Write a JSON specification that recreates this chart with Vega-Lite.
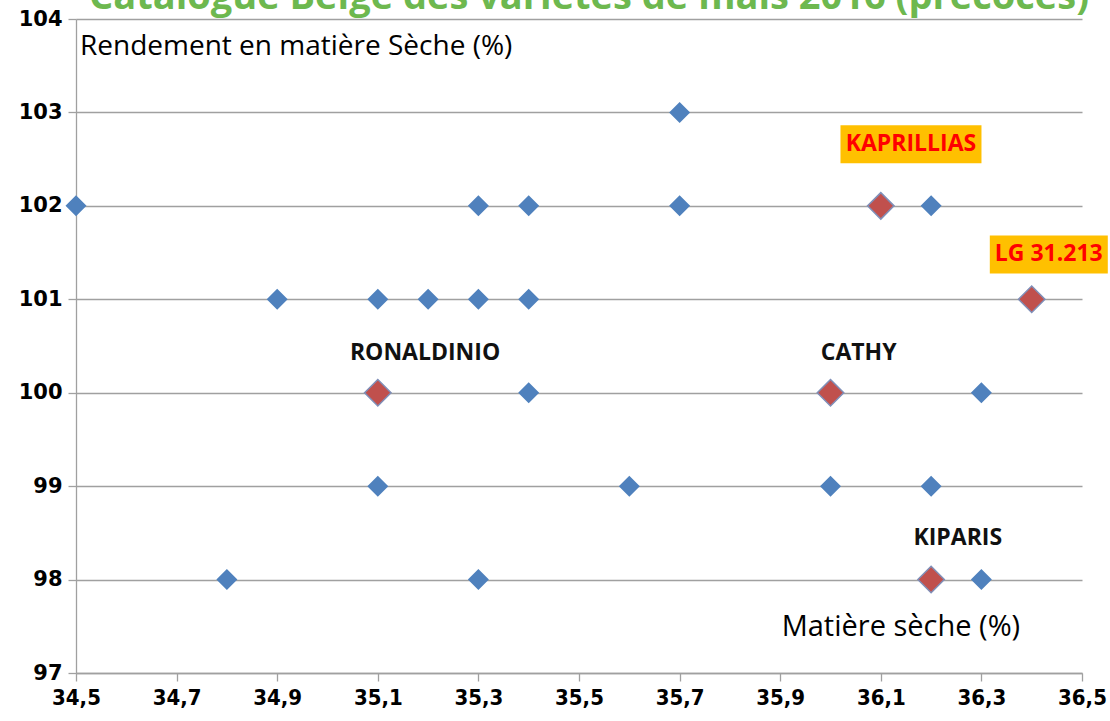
{
  "$schema": "https://vega.github.io/schema/vega-lite/v6.json",
  "autosize": {"type": "none"},
  "width": 1006,
  "height": 654,
  "padding": {"left": 76, "top": 19, "right": 28, "bottom": 48},
  "background": "white",
  "config": {"view": {"stroke": null}},
  "datasets": {
    "pts": [
      {"ms": 34.5, "rend": 102, "variete": "", "mise": "non"},
      {"ms": 35.7, "rend": 103, "variete": "", "mise": "non"},
      {"ms": 35.3, "rend": 102, "variete": "", "mise": "non"},
      {"ms": 35.4, "rend": 102, "variete": "", "mise": "non"},
      {"ms": 35.7, "rend": 102, "variete": "", "mise": "non"},
      {"ms": 36.1, "rend": 102, "variete": "KAPRILLIAS", "mise": "oui"},
      {"ms": 36.2, "rend": 102, "variete": "", "mise": "non"},
      {"ms": 34.9, "rend": 101, "variete": "", "mise": "non"},
      {"ms": 35.1, "rend": 101, "variete": "", "mise": "non"},
      {"ms": 35.2, "rend": 101, "variete": "", "mise": "non"},
      {"ms": 35.3, "rend": 101, "variete": "", "mise": "non"},
      {"ms": 35.4, "rend": 101, "variete": "", "mise": "non"},
      {"ms": 36.4, "rend": 101, "variete": "LG 31.213", "mise": "oui"},
      {"ms": 35.1, "rend": 100, "variete": "RONALDINIO", "mise": "oui"},
      {"ms": 35.4, "rend": 100, "variete": "", "mise": "non"},
      {"ms": 36.0, "rend": 100, "variete": "CATHY", "mise": "oui"},
      {"ms": 36.3, "rend": 100, "variete": "", "mise": "non"},
      {"ms": 35.1, "rend": 99, "variete": "", "mise": "non"},
      {"ms": 35.6, "rend": 99, "variete": "", "mise": "non"},
      {"ms": 36.0, "rend": 99, "variete": "", "mise": "non"},
      {"ms": 36.2, "rend": 99, "variete": "", "mise": "non"},
      {"ms": 34.8, "rend": 98, "variete": "", "mise": "non"},
      {"ms": 35.3, "rend": 98, "variete": "", "mise": "non"},
      {"ms": 36.2, "rend": 98, "variete": "KIPARIS", "mise": "oui"},
      {"ms": 36.3, "rend": 98, "variete": "", "mise": "non"}
    ],
    "etiquettes": [
      {"nom": "KAPRILLIAS", "lx": 36.16, "ly": 102.66, "type": "fond"},
      {"nom": "LG 31.213", "lx": 36.434, "ly": 101.48, "type": "fond"},
      {"nom": "RONALDINIO", "lx": 35.194, "ly": 100.43, "type": "simple"},
      {"nom": "CATHY", "lx": 36.056, "ly": 100.43, "type": "simple"},
      {"nom": "KIPARIS", "lx": 36.253, "ly": 98.44, "type": "simple"}
    ],
    "notes": [
      {"texte": "Rendement en matière Sèche (%)", "nx": 34.508, "ny": 103.7, "role": "y"},
      {"texte": "Matière sèche  (%)", "nx": 36.14, "ny": 97.49, "role": "x"}
    ],
    "titre": [
      {"texte": "Catalogue Belge des variétés de maïs 2016 (précoces)", "nx": 35.52, "ny": 104.11}
    ]
  },
  "layer": [
    {
      "data": {"name": "pts"},
      "mark": {"type": "point", "opacity": 0},
      "encoding": {
        "x": {
          "field": "ms", "type": "quantitative",
          "scale": {"domain": [34.5, 36.5], "nice": false, "zero": false},
          "axis": {
            "title": null,
            "values": [34.5, 34.7, 34.9, 35.1, 35.3, 35.5, 35.7, 35.9, 36.1, 36.3, 36.5],
            "labelExpr": "replace(format(datum.value, '.1f'), '.', ',')",
            "grid": false,
            "domainColor": "#a0a0a0",
            "domainWidth": 1.3,
            "tickColor": "#a0a0a0",
            "tickSize": 8,
            "tickWidth": 1.3,
            "labelPadding": 6,
            "labelFont": "DejaVu Sans Condensed, DejaVu Sans",
            "labelFontSize": 22,
            "labelFontWeight": "bold",
            "labelColor": "#000000",
            "labelOverlap": false,
            "labelFlush": false
          }
        },
        "y": {
          "field": "rend", "type": "quantitative",
          "scale": {"domain": [97, 104], "nice": false, "zero": false},
          "axis": {
            "title": null,
            "values": [97, 98, 99, 100, 101, 102, 103, 104],
            "format": "d",
            "grid": true,
            "gridColor": "#a0a0a0",
            "gridWidth": 1.3,
            "domainColor": "#a0a0a0",
            "domainWidth": 1.3,
            "tickColor": "#a0a0a0",
            "tickSize": 8,
            "tickWidth": 1.3,
            "labelPadding": 6,
            "labelFont": "DejaVu Sans",
            "labelFontSize": 21,
            "labelFontWeight": "bold",
            "labelColor": "#000000",
            "labelOverlap": false,
            "labelFlush": false
          }
        }
      }
    },
    {
      "data": {"name": "etiquettes"},
      "transform": [{"filter": "datum.nom == 'KAPRILLIAS'"}],
      "mark": {"type": "point", "filled": true, "color": "#ffc000", "opacity": 1, "size": 19881,
               "shape": "M-1,-0.27L1,-0.27L1,0.27L-1,0.27Z"},
      "encoding": {
        "x": {"field": "lx", "type": "quantitative"},
        "y": {"field": "ly", "type": "quantitative"}
      }
    },
    {
      "data": {"name": "etiquettes"},
      "transform": [{"filter": "datum.nom == 'LG 31.213'"}],
      "mark": {"type": "point", "filled": true, "color": "#ffc000", "opacity": 1, "size": 13924,
               "shape": "M-1,-0.322L1,-0.322L1,0.322L-1,0.322Z"},
      "encoding": {
        "x": {"field": "lx", "type": "quantitative"},
        "y": {"field": "ly", "type": "quantitative"}
      }
    },
    {
      "data": {"name": "pts"},
      "transform": [{"filter": "datum.mise == 'non'"}],
      "mark": {"type": "point", "shape": "diamond", "filled": true, "color": "#4f81bd", "opacity": 1, "size": 441},
      "encoding": {
        "x": {"field": "ms", "type": "quantitative"},
        "y": {"field": "rend", "type": "quantitative"}
      }
    },
    {
      "data": {"name": "pts"},
      "transform": [{"filter": "datum.mise == 'oui'"}],
      "mark": {"type": "point", "shape": "diamond", "filled": true, "fill": "#c0504d", "stroke": "#7f8fb8", "strokeWidth": 1.5, "opacity": 1, "size": 700},
      "encoding": {
        "x": {"field": "ms", "type": "quantitative"},
        "y": {"field": "rend", "type": "quantitative"}
      }
    },
    {
      "data": {"name": "etiquettes"},
      "mark": {"type": "text", "font": "Open Sans", "fontSize": 23, "fontWeight": "bold", "align": "center", "baseline": "middle"},
      "encoding": {
        "x": {"field": "lx", "type": "quantitative"},
        "y": {"field": "ly", "type": "quantitative"},
        "text": {"field": "nom"},
        "color": {
          "field": "type", "type": "nominal",
          "scale": {"domain": ["fond", "simple"], "range": ["#ff0000", "#111111"]},
          "legend": null
        }
      }
    },
    {
      "data": {"name": "notes"},
      "transform": [{"filter": "datum.role == 'y'"}],
      "mark": {"type": "text", "font": "Open Sans", "fontSize": 28, "color": "#000000", "baseline": "middle", "align": "left"},
      "encoding": {
        "x": {"field": "nx", "type": "quantitative"},
        "y": {"field": "ny", "type": "quantitative"},
        "text": {"field": "texte"}
      }
    },
    {
      "data": {"name": "notes"},
      "transform": [{"filter": "datum.role == 'x'"}],
      "mark": {"type": "text", "font": "Open Sans", "fontSize": 29, "color": "#000000", "baseline": "middle", "align": "center"},
      "encoding": {
        "x": {"field": "nx", "type": "quantitative"},
        "y": {"field": "ny", "type": "quantitative"},
        "text": {"field": "texte"}
      }
    },
    {
      "data": {"name": "titre"},
      "mark": {"type": "text", "font": "Open Sans", "fontSize": 38, "fontWeight": "bold", "color": "#6db84f", "align": "center", "baseline": "alphabetic"},
      "encoding": {
        "x": {"field": "nx", "type": "quantitative"},
        "y": {"field": "ny", "type": "quantitative"},
        "text": {"field": "texte"}
      }
    }
  ]
}
